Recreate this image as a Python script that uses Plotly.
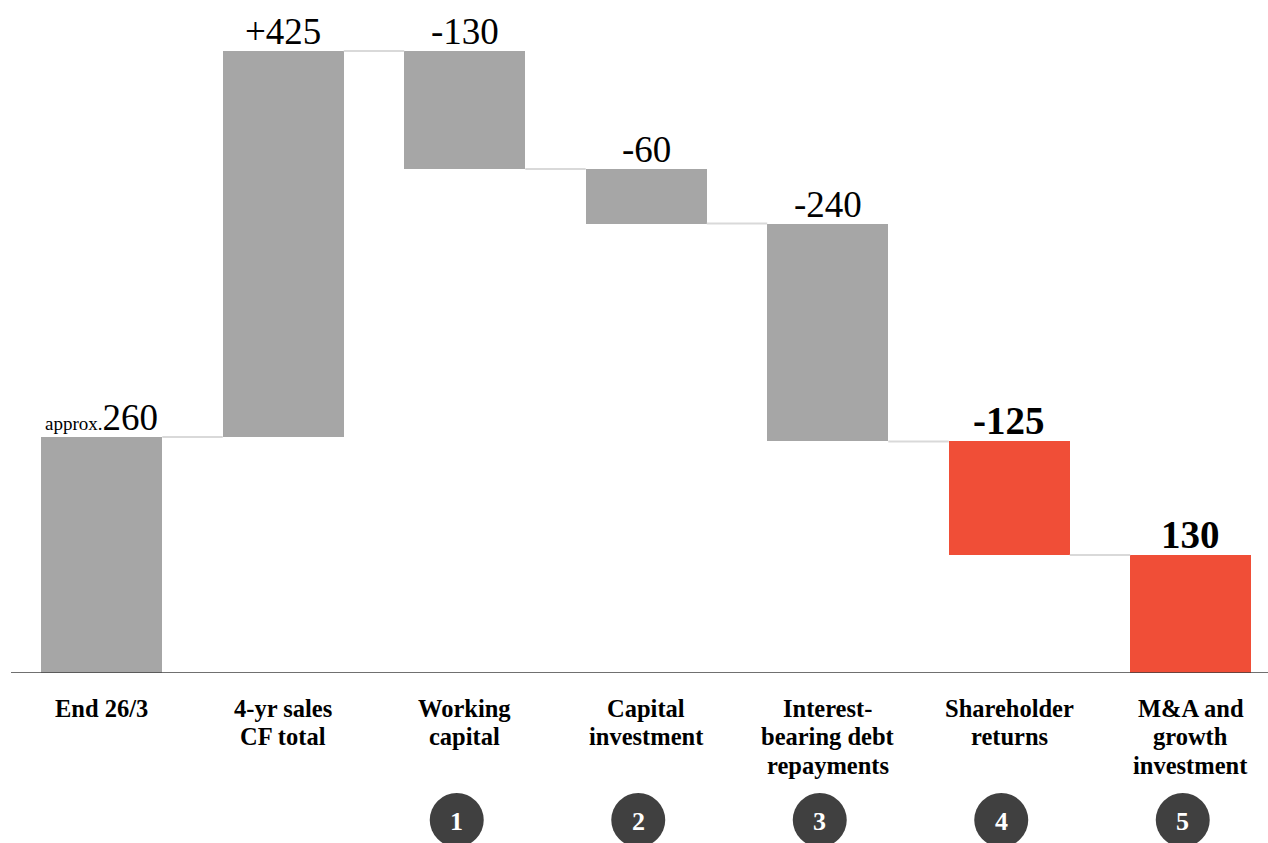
import plotly.graph_objects as go

categories = ["End 26/3", "4-yr sales<br>CF total", "Working<br>capital", "Capital<br>investment",
              "Interest-<br>bearing debt<br>repayments", "Shareholder<br>returns",
              "M&A and<br>growth<br>investment"]
start_value = 260
deltas = [425, -130, -60, -240, -125]
value_labels = ["<span style='font-size:19px'>approx.</span>260", "+425", "-130", "-60", "-240",
                "<b>-125</b>", "<b>130</b>"]
badges = ["", "", "1", "2", "3", "4", "5"]
highlight = [False, False, False, False, False, True, True]

GRAY = "#A6A6A6"
RED = "#F04E37"
SERIF = "Liberation Serif, Times New Roman, serif"

# cumulative levels
levels = [start_value]
for d in deltas:
    levels.append(levels[-1] + d)
final_total = levels[-1]

bases, heights, tops = [0], [start_value], [start_value]
for i, d in enumerate(deltas):
    lo = min(levels[i], levels[i + 1]); hi = max(levels[i], levels[i + 1])
    bases.append(lo); heights.append(hi - lo); tops.append(hi)
bases.append(0); heights.append(final_total); tops.append(final_total)

xs = list(range(len(categories)))
colors = [RED if h else GRAY for h in highlight]
BW = 0.667

fig = go.Figure()
fig.add_trace(go.Bar(x=xs, y=heights, base=bases, width=BW, marker=dict(color=colors, line=dict(width=0)),
                     hoverinfo="skip"))

# connectors
cx, cy = [], []
for i in range(len(categories) - 1):
    lvl = levels[i]
    cx += [i + BW / 2, i + 1 - BW / 2, None]
    cy += [lvl, lvl, None]
fig.add_trace(go.Scatter(x=cx, y=cy, mode="lines", line=dict(color="#D9D9D9", width=2), hoverinfo="skip"))

annotations = []
for i, (t, lab) in enumerate(zip(tops, value_labels)):
    size = 39 if lab.startswith("<b>") else 37
    annotations.append(dict(x=i, y=t, xref="x", yref="y", text=lab, showarrow=False, yanchor="bottom",
                            font=dict(family=SERIF, size=size, color="black"), yshift=-3))
PLOT_H = 673
for i, c in enumerate(categories):
    for k, line in enumerate(c.split("<br>")):
        ypx = 708 + 28.5 * k
        annotations.append(dict(x=i, y=(PLOT_H - ypx) / PLOT_H, xref="x", yref="paper", text="<b>" + line + "</b>",
                                showarrow=False, yanchor="middle", align="center",
                                font=dict(family=SERIF, size=24.5, color="black")))

shapes = [dict(type="line", xref="paper", yref="y", x0=0, x1=1, y0=0, y1=0,
               line=dict(color="#404040", width=1.5))]
circ_y = (PLOT_H - 820) / PLOT_H
for i, b in enumerate(badges):
    if not b:
        continue
    xc = i - 8 / 181.5
    shapes.append(dict(type="circle", xref="x", yref="paper", xsizemode="pixel", ysizemode="pixel",
                       xanchor=xc, yanchor=circ_y, x0=-27, x1=27, y0=-27, y1=27,
                       fillcolor="#404040", line=dict(width=0)))
    annotations.append(dict(x=xc, y=circ_y, xref="x", yref="paper", text="<b>" + b + "</b>", showarrow=False,
                            font=dict(family=SERIF, size=26, color="white"), yanchor="middle", yshift=-1))

fig.update_layout(
    width=1268, height=843, margin=dict(l=11, r=0, t=0, b=843 - PLOT_H),
    plot_bgcolor="white", paper_bgcolor="white", showlegend=False,
    xaxis=dict(range=[-0.5, -0.5 + 1257 / 181.5], visible=False, fixedrange=True),
    yaxis=dict(range=[0, PLOT_H / 0.908], visible=False, fixedrange=True),
    annotations=annotations, shapes=shapes, bargap=0,
)
fig.write_html("out.html")
